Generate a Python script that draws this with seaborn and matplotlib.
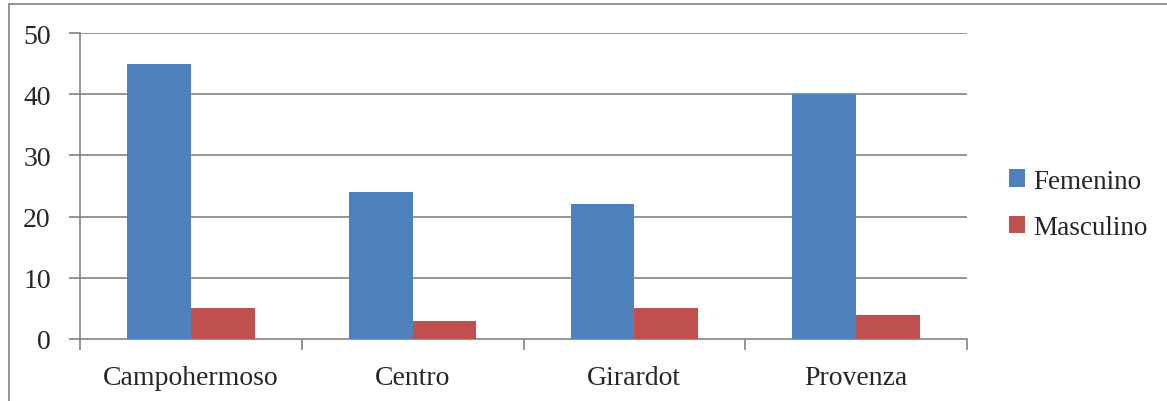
import pandas as pd
import matplotlib
matplotlib.use("Agg")
import matplotlib.pyplot as plt
import seaborn as sns
from matplotlib.patches import Rectangle

# data
sedes = ["Campohermoso", "Centro", "Girardot", "Provenza"]
femenino = [45, 24, 22, 40]
masculino = [5, 3, 5, 4]

df = pd.DataFrame({
    "Sede": sedes * 2,
    "Genero": ["Femenino"] * 4 + ["Masculino"] * 4,
    "Valor": femenino + masculino,
})

sns.set_style("white")
plt.rcParams["font.family"] = ["Liberation Serif", "DejaVu Serif"]

fig = plt.figure(figsize=(11.67, 4.02), dpi=100)
ax = fig.add_axes([80 / 1167, 1 - 340 / 402, 887 / 1167, 306 / 402])

sns.barplot(data=df, x="Sede", y="Valor", hue="Genero",
            palette=["#4F81BD", "#C0504D"], width=0.575, saturation=1,
            errorbar=None, ax=ax, zorder=3, linewidth=0)

ax.set_xlim(-0.5, 3.5)
ax.set_ylim(0, 50)
ax.set_yticks(range(0, 51, 10))
ax.set_xlabel("")
ax.set_ylabel("")

grid_c = "#8c8c8c"
for v in range(10, 51, 10):
    ax.axhline(v, color=grid_c, lw=1.3, zorder=1)
for s in ["top", "right"]:
    ax.spines[s].set_visible(False)
for s in ["left", "bottom"]:
    ax.spines[s].set_color(grid_c)
    ax.spines[s].set_linewidth(1.3)

ax.tick_params(axis="y", left=True, length=8, width=1.3, color=grid_c,
               labelsize=20, pad=13)
ax.tick_params(axis="x", which="major", bottom=False, labelsize=20, pad=15)
# category boundary ticks on the x axis
ax.set_xticks([-0.5, 0.5, 1.5, 2.5, 3.5], minor=True)
ax.tick_params(axis="x", which="minor", bottom=True, length=8, width=1.3,
               color=grid_c, direction="out")

leg = ax.legend(loc="center left", bbox_to_anchor=(1.02, 0.44), frameon=False,
                fontsize=19.5, handlelength=0.6, handleheight=0.6,
                handletextpad=0.3, labelspacing=0.8)

# outer frame (top and left edges visible)
fig.patches.append(Rectangle((9 / 1167, -0.1), 1.2, 1.1 - 5 / 402,
                             transform=fig.transFigure, fill=False,
                             edgecolor="#8c8c8c", lw=1.3))

fig.savefig("out.png", dpi=100)
